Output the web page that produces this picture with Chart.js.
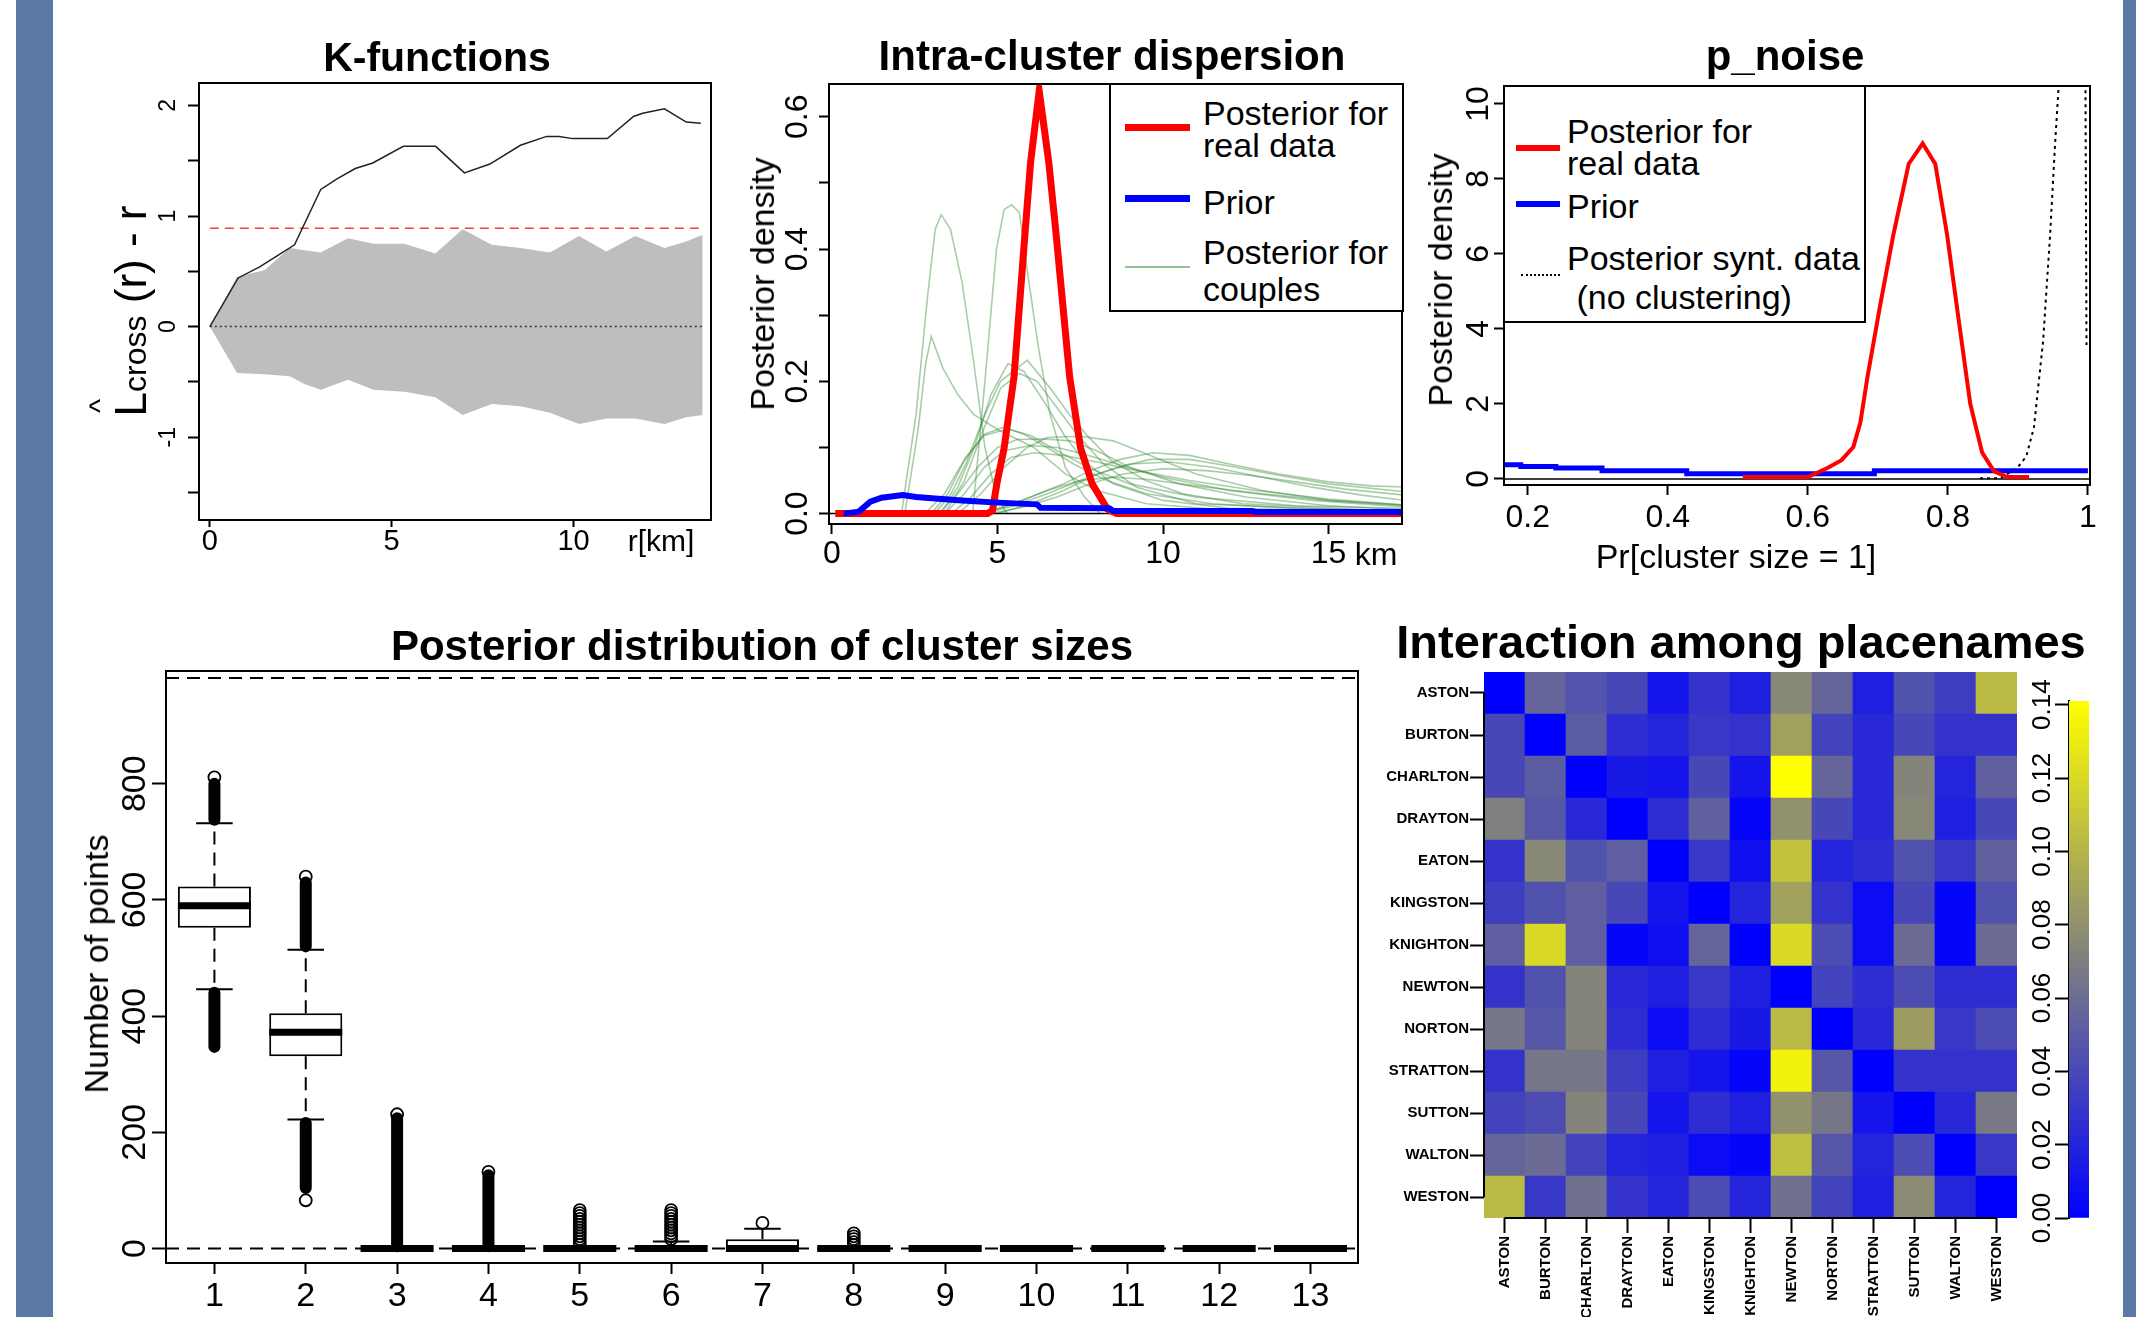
<!DOCTYPE html>
<html><head><meta charset="utf-8">
<script src="https://cdn.jsdelivr.net/npm/chart.js@4.4.1/dist/chart.umd.min.js"></script>
<style>
html,body{margin:0;padding:0;background:#fff;width:2136px;height:1317px;overflow:hidden;font-family:'Liberation Sans',Arial,sans-serif;}
.band{position:absolute;top:0;height:1317px;background:#5a79a5;}
.cv{position:absolute;}
.t{position:absolute;white-space:nowrap;line-height:1;color:#000;transform:translate(-50%,-50%);}
.r{transform:translate(-50%,-50%) rotate(-90deg);}
.b{font-weight:bold;}
.lg{position:absolute;border:2px solid #000;background:#fff;box-sizing:border-box;}
.lt{position:absolute;white-space:nowrap;line-height:1;font-size:34px;transform:translateY(-50%);color:#000;}
.ls{position:absolute;}
</style></head><body>
<div class="band" style="left:16px;width:37px"></div>
<div class="band" style="left:2123px;width:13px"></div>
<div class="cv" id="cK"></div><div class="cv" id="cD"></div><div class="cv" id="cP"></div>
<div class="cv" id="cB"></div><div class="cv" id="cH"></div><div class="cv" id="cC"></div>

<div class="t b" style="left:437px;top:57px;font-size:41px">K-functions</div>
<div class="t b" style="left:1112px;top:56px;font-size:42px">Intra-cluster dispersion</div>
<div class="t b" style="left:1785px;top:56px;font-size:42px">p_noise</div>
<div class="t b" style="left:762px;top:646px;font-size:42px">Posterior distribution of cluster sizes</div>
<div class="t b" style="left:1741px;top:641px;font-size:47px">Interaction among placenames</div>

<div class="t r" style="left:131px;top:311px;font-size:44px">L<span style="font-size:32px">cross</span> (r) - r</div>
<div class="t r" style="left:100px;top:406px;font-size:30px">^</div>
<div class="t" style="left:661px;top:541px;font-size:30px">r[km]</div>
<div class="t r" style="left:762px;top:284px;font-size:34px">Posterior density</div>
<div class="t" style="left:1376px;top:554px;font-size:32px">km</div>
<div class="t r" style="left:1440px;top:280px;font-size:34px">Posterior density</div>
<div class="t" style="left:1736px;top:556px;font-size:34px">Pr[cluster size = 1]</div>
<div class="t r" style="left:96px;top:964px;font-size:34px">Number of points</div>

<div class="lg" style="left:1109px;top:83px;width:295px;height:229px"></div>
<div class="ls" style="left:1125px;top:124px;width:65px;height:7px;background:#ff0000"></div>
<div class="ls" style="left:1125px;top:195px;width:65px;height:7px;background:#0000ff"></div>
<div class="ls" style="left:1125px;top:266px;width:65px;height:2px;background:rgba(60,140,60,0.55)"></div>
<div class="lt" style="left:1203px;top:113px">Posterior for</div>
<div class="lt" style="left:1203px;top:145px">real data</div>
<div class="lt" style="left:1203px;top:202px">Prior</div>
<div class="lt" style="left:1203px;top:252px">Posterior for</div>
<div class="lt" style="left:1203px;top:289px">couples</div>

<div class="lg" style="left:1503px;top:85px;width:363px;height:238px"></div>
<div class="ls" style="left:1516px;top:145px;width:44px;height:6px;background:#ff0000"></div>
<div class="ls" style="left:1516px;top:201px;width:44px;height:6px;background:#0000ff"></div>
<div class="ls" style="left:1521px;top:274px;width:39px;height:0;border-top:2px dotted #000"></div>
<div class="lt" style="left:1567px;top:131px">Posterior for</div>
<div class="lt" style="left:1567px;top:163px">real data</div>
<div class="lt" style="left:1567px;top:206px">Prior</div>
<div class="lt" style="left:1567px;top:258px">Posterior synt. data</div>
<div class="lt" style="left:1567px;top:297px">&nbsp;(no clustering)</div>

<script>
// ---------- K-functions ----------
const kObsX = [0,0.78,1.37,1.85,2.33,3.05,3.52,4.0,4.48,5.32,6.21,7.0,7.7,8.54,9.26,9.6,9.98,10.93,11.65,11.9,12.5,13.1,13.5];
const kObsY = [0,0.44,0.54,0.64,0.74,1.24,1.34,1.43,1.48,1.63,1.63,1.39,1.47,1.64,1.72,1.72,1.70,1.70,1.90,1.93,1.97,1.85,1.84];
const kEnvX = [0,0.75,1.5,2.2,2.6,3.05,3.8,4.5,5.35,6.2,6.95,7.75,8.55,9.35,10.15,10.9,11.7,12.5,13.1,13.55];
const kEnvHi = [0,0.45,0.51,0.71,0.69,0.67,0.80,0.75,0.75,0.66,0.88,0.74,0.71,0.67,0.82,0.68,0.82,0.71,0.77,0.83];
const kEnvLo = [0,-0.42,-0.43,-0.45,-0.52,-0.57,-0.48,-0.57,-0.59,-0.64,-0.80,-0.70,-0.72,-0.78,-0.88,-0.83,-0.83,-0.88,-0.82,-0.80];
const kRef = 0.89;
const kSpan = [0, 13.55];
const kYTicks = [-1.5,-1,-0.5,0,0.5,1,1.5,2];
const kYLabels = ['','-1','','0','','1','','2'];
const kXTicks = [0,5,10];
const kXLabels = ['0','5','10'];

// ---------- Intra-cluster dispersion ----------
const dRedX = [0.1,4.7,4.85,4.98,5.2,5.5,5.83,6.0,6.26,6.55,6.77,7.18,7.51,7.86,8.32,8.6,17.3];
const dRedY = [0,0,0.005,0.045,0.099,0.207,0.423,0.531,0.639,0.531,0.423,0.207,0.099,0.045,0.007,0,0];
const dBlueX = [0.35,0.81,1.16,1.5,2.14,2.54,3.12,3.93,4.86,6.19,6.3,8.38,8.5,12.7,12.8,17.3];
const dBlueY = [0,0.003,0.018,0.024,0.028,0.025,0.023,0.02,0.017,0.014,0.009,0.008,0.004,0.004,0.0025,0.0025];
const coupleCurves = [
 [[2.1,0],[2.54,0.15],[2.89,0.33],[3.12,0.43],[3.3,0.452],[3.58,0.43],[3.93,0.35],[4.28,0.23],[4.62,0.10],[4.97,0.025],[5.3,0]],
 [[2.2,0],[2.6,0.126],[2.83,0.227],[3.0,0.268],[3.35,0.22],[3.8,0.18],[4.28,0.15],[5.04,0.126],[6.1,0.1],[7.05,0.06],[8.0,0.035],[9.5,0.015],[12,0.005],[17.3,0.002]],
 [[4.25,0],[4.62,0.2],[4.97,0.40],[5.2,0.46],[5.43,0.467],[5.66,0.455],[5.95,0.35],[6.24,0.25],[6.59,0.15],[7.05,0.07],[7.63,0.025],[8.1,0]],
 [[3.1,0],[3.6,0.03],[4.05,0.076],[4.62,0.15],[5.09,0.2],[5.9,0.232],[6.59,0.19],[7.17,0.15],[7.75,0.116],[8.44,0.08],[9.48,0.05],[10.6,0.03],[12.4,0.015],[17.3,0.003]],
 [[3.3,0],[3.8,0.04],[4.3,0.1],[4.8,0.18],[5.32,0.227],[5.8,0.215],[6.4,0.17],[7.0,0.12],[7.6,0.08],[8.5,0.045],[10,0.02],[12,0.008],[17.3,0.002]],
 [[3.4,0],[4.0,0.05],[4.6,0.13],[5.1,0.19],[5.66,0.212],[6.2,0.2],[6.8,0.16],[7.4,0.12],[8.2,0.075],[9.2,0.04],[11,0.015],[17.3,0.002]],
 [[3.0,0],[3.5,0.03],[4.0,0.08],[4.6,0.12],[5.2,0.131],[5.8,0.12],[6.5,0.1],[7.3,0.075],[8.3,0.05],[9.5,0.03],[11.5,0.015],[14,0.008],[17.3,0.004]],
 [[3.2,0],[3.8,0.03],[4.4,0.07],[5.0,0.1],[5.6,0.112],[6.4,0.113],[7.2,0.11],[8.0,0.095],[9.0,0.07],[10.5,0.045],[12.5,0.025],[15,0.012],[17.3,0.006]],
 [[3.4,0],[4.0,0.03],[4.6,0.07],[5.2,0.095],[6.0,0.103],[6.8,0.1],[7.6,0.09],[8.6,0.075],[10,0.055],[12,0.035],[14.5,0.02],[17.3,0.01]],
 [[3.6,0],[4.2,0.025],[4.8,0.06],[5.4,0.085],[6.1,0.092],[7.0,0.088],[8.0,0.078],[9.2,0.065],[10.8,0.05],[12.8,0.035],[15,0.022],[17.3,0.013]],
 [[4.4,0],[5.2,0.01],[6.0,0.025],[7.0,0.045],[7.8,0.065],[8.7,0.082],[9.7,0.092],[10.8,0.088],[12.0,0.075],[13.5,0.06],[15.0,0.048],[16.3,0.042],[17.3,0.04]],
 [[4.6,0],[5.5,0.012],[6.5,0.03],[7.5,0.05],[8.5,0.068],[9.6,0.082],[10.8,0.082],[12.0,0.072],[13.5,0.058],[15.0,0.045],[17.3,0.033]],
 [[4.8,0],[5.8,0.01],[6.8,0.025],[7.8,0.045],[8.8,0.06],[10.0,0.068],[11.3,0.065],[12.6,0.058],[14,0.048],[15.5,0.037],[17.3,0.028]],
 [[5.0,0],[6.0,0.015],[7.0,0.035],[8.0,0.06],[9.0,0.075],[10.2,0.078],[11.5,0.07],[13,0.055],[14.5,0.04],[16,0.028],[17.3,0.02]],
 [[3.8,0],[4.5,0.03],[5.2,0.07],[5.9,0.1],[6.5,0.115],[7.5,0.117],[8.5,0.11],[9.5,0.09],[11,0.06],[13,0.035],[15,0.02],[17.3,0.012]],
 [[2.8,0],[3.4,0.03],[4.05,0.086],[4.6,0.118],[5.3,0.128],[6.0,0.118],[6.8,0.095],[7.8,0.068],[9,0.045],[11,0.025],[14,0.012],[17.3,0.008]],
 [[4.5,0],[5.5,0.015],[6.5,0.035],[7.5,0.05],[8.5,0.055],[9.5,0.052],[11,0.042],[13,0.03],[15,0.02],[17.3,0.013]]
];
const dXTicks = [0,5,10,15];
const dXLabels = ['0','5','10','15'];
const dYTicks = [0,0.1,0.2,0.3,0.4,0.5,0.6];
const dYLabels = ['0.0','','0.2','','0.4','','0.6'];

// ---------- p_noise ----------
const pnRedX = [0.507,0.6,0.628,0.648,0.665,0.675,0.685,0.703,0.722,0.744,0.764,0.782,0.799,0.815,0.832,0.849,0.866,0.885,0.916];
const pnRedY = [0.05,0.05,0.29,0.5,0.85,1.5,2.7,4.6,6.5,8.4,8.95,8.4,6.5,4.3,2.0,0.7,0.2,0.05,0.05];
const pnBlueX = [0.166,0.19,0.24,0.306,0.427,0.695,1.0];
const pnBlueY = [0.43,0.38,0.33,0.29,0.22,0.14,0.22];
const pnSynX = [0.846,0.875,0.899,0.912,0.923,0.936,0.946,0.953,0.958,0.962,0.996,0.998];
const pnSynY = [0.02,0.02,0.29,0.6,1.38,3.67,6.5,8.9,10.4,13,13,3.57];
const pXTicks = [0.2,0.4,0.6,0.8,1.0];
const pXLabels = ['0.2','0.4','0.6','0.8','1'];
const pYTicks = [0,2,4,6,8,10];
const pYLabels = ['0','2','4','6','8','10'];

// ---------- Cluster sizes boxplot ----------
const sizes = [1,2,3,4,5,6,7,8,9,10,11,12,13];
const q1  = [552,331,0,0,0,0,0,0,0,0,0,0,0];
const med = [590,372,0,0,0,0,0,0,0,0,0,0,0];
const q3  = [623,405,0,0,0,0,16,0,0,0,0,0,0];
const whLo = [446,222,0,0,0,0,0,0,0,0,0,0,0];
const whHi = [732,514,0,0,0,12,34,0,0,0,0,0,0];
const outBands = [[1,738,800],[1,440,347],[2,520,630],[2,216,104],[3,4,224],[4,4,126]];
const outPoints = [[1,811],[2,640],[2,83],[3,231],[4,132],
  [5,66],[5,61],[5,56],[5,51],[5,46],[5,41],[5,36],[5,31],[5,26],[5,21],[5,16],[5,11],[5,6],
  [6,66],[6,61],[6,56],[6,51],[6,46],[6,41],[6,36],[6,31],[6,26],[6,21],[6,16],
  [7,44],[8,26],[8,21],[8,16],[8,11],[8,6]];
const refLines = [0, 982];
const bYTicks = [0,200,400,600,800];
const bYLabels = ['0','200','400','600','800'];

// ---------- Interaction heatmap ----------
const places = ['ASTON','BURTON','CHARLTON','DRAYTON','EATON','KINGSTON','KNIGHTON','NEWTON','NORTON','STRATTON','SUTTON','WALTON','WESTON'];
const interaction = [
 [0,0.056,0.046,0.039,0.011,0.028,0.017,0.075,0.056,0.017,0.045,0.034,0.103],
 [0.039,0,0.051,0.025,0.020,0.031,0.028,0.089,0.037,0.022,0.039,0.028,0.028],
 [0.039,0.051,0,0.014,0.011,0.039,0.011,0.141,0.056,0.022,0.073,0.020,0.053],
 [0.070,0.048,0.022,0,0.025,0.053,0.003,0.080,0.039,0.022,0.075,0.017,0.039],
 [0.028,0.075,0.045,0.052,0,0.031,0.008,0.108,0.020,0.025,0.045,0.031,0.053],
 [0.034,0.045,0.052,0.039,0.011,0,0.020,0.089,0.028,0.006,0.039,0.003,0.045],
 [0.052,0.120,0.052,0.003,0.008,0.056,0,0.120,0.042,0.006,0.059,0.003,0.059],
 [0.028,0.045,0.073,0.022,0.017,0.031,0.017,0,0.037,0.025,0.042,0.025,0.025],
 [0.065,0.048,0.073,0.025,0.006,0.025,0.014,0.103,0,0.022,0.086,0.031,0.042],
 [0.028,0.065,0.065,0.034,0.017,0.011,0.003,0.134,0.048,0,0.028,0.028,0.028],
 [0.037,0.042,0.073,0.039,0.011,0.025,0.017,0.080,0.065,0.011,0,0.022,0.067],
 [0.056,0.059,0.037,0.020,0.017,0.006,0.003,0.105,0.048,0.020,0.042,0,0.031],
 [0.103,0.031,0.062,0.028,0.020,0.042,0.020,0.062,0.037,0.017,0.077,0.020,0]
];
const cbTicks = [0,0.02,0.04,0.06,0.08,0.10,0.12,0.14];
const cbLabels = ['0.00','0.02','0.04','0.06','0.08','0.10','0.12','0.14'];

// ================= helpers =================
Chart.defaults.font.family = "'Liberation Sans', Arial, sans-serif";
Chart.defaults.color = '#000';

const rbox = { id:'rbox', afterDatasetsDraw(chart, args, o){ if(!o || !o.on) return; const c=chart.ctx, a=chart.chartArea; c.save(); c.strokeStyle='#000'; c.lineWidth=2; c.strokeRect(a.left, a.top, a.right-a.left, a.bottom-a.top); c.restore(); } };
const rAxisLines = { id:'rAxisLines', afterDatasetsDraw(chart, args, o){ if(!o || !o.on) return; const c=chart.ctx, a=chart.chartArea, x=chart.scales.x, y=chart.scales.y; c.save(); c.strokeStyle='#000'; c.lineWidth=2; c.beginPath(); c.moveTo(x.getPixelForTick(0), a.bottom); c.lineTo(x.getPixelForTick(x.ticks.length-1), a.bottom); c.moveTo(a.left, y.getPixelForValue(y.ticks[0].value)); c.lineTo(a.left, y.getPixelForValue(y.ticks[y.ticks.length-1].value)); c.stroke(); c.restore(); } };
Chart.register(rbox, rAxisLines);

function mk(id, area, m, cfg, flags){
  flags = flags || {};
  const el = document.getElementById(id);
  el.style.left = (area[0]-m[0])+'px'; el.style.top = (area[1]-m[1])+'px';
  el.style.width = (area[2]-area[0]+m[0]+m[2])+'px'; el.style.height = (area[3]-area[1]+m[1]+m[3])+'px';
  const cv = document.createElement('canvas'); el.appendChild(cv);
  const o = cfg.options;
  o.responsive = true; o.maintainAspectRatio = false; o.animation = false; o.devicePixelRatio = 1; o.events = [];
  o.layout = {padding:{left: flags.noY ? m[0] : 0, top:m[1], right:m[2], bottom: flags.noX ? m[3] : 0}};
  o.plugins = Object.assign({legend:{display:false}, tooltip:{enabled:false}}, o.plugins||{});
  return new Chart(cv, cfg);
}
function axis(pos, o, size){
  const vert = pos==='left';
  return {
    type:o.type||'linear', position:pos, min:o.min, max:o.max, offset:false, stacked:o.stacked||false,
    afterBuildTicks: s => { s.ticks = o.ticks.map(v => ({value:v})); },
    afterFit: s => { if (vert) s.width = size; else s.height = size; },
    ticks: Object.assign({autoSkip:false, padding:o.pad, color:'#000', font:{size:o.fs, lineHeight:1, weight:o.fw||'normal'},
      callback:(v,i)=>o.labels[i]}, vert ? {minRotation:90, maxRotation:90, crossAlign:'center'} : {minRotation:0, maxRotation:0}),
    grid: {display:true, drawOnChartArea:false, drawTicks:true, tickLength:o.tl, tickWidth:2, tickColor:'#000', offset:false},
    border: {display:false}
  };
}
const pts = (xs, ys) => xs.map((x,i) => ({x, y:ys[i]}));
const line = (data, color, w, extra) => Object.assign({type:'line', data, borderColor:color, borderWidth:w, pointRadius:0, fill:false, tension:0}, extra||{});

// ================= K-functions =================
mk('cK', [199,83,711,520], [120,40,30,70], {
  type:'line',
  data:{datasets:[
    line(pts(kObsX,kObsY), '#222', 1.5, {order:0}),
    line(pts(kSpan,[kRef,kRef]), '#ff3b3b', 1.5, {borderDash:[9,6], order:1}),
    line(pts(kSpan,[0,0]), '#333', 1.5, {borderDash:[2,3], order:2}),
    line(pts(kEnvX,kEnvHi), 'rgba(0,0,0,0)', 1, {fill:'+1', backgroundColor:'#bebebe', order:3}),
    line(pts(kEnvX,kEnvLo), 'rgba(0,0,0,0)', 1, {order:4})
  ]},
  options:{ plugins:{rbox:{on:true}}, scales:{
    x: axis('bottom', {min:-0.297, max:13.78, ticks:kXTicks, labels:kXLabels, fs:29, tl:7, pad:0}, 70),
    y: axis('left', {min:-1.749, max:2.203, ticks:kYTicks, labels:kYLabels, fs:23, tl:11, pad:9}, 120)
  }}
});

// ================= Intra-cluster dispersion =================
const dSets = [
  line(pts(dBlueX,dBlueY), '#0000ff', 6, {order:0}),
  line(pts(dRedX,dRedY), '#ff0000', 7, {order:1}),
  line(pts([-0.09,17.22],[0,0]), '#000', 1.5, {order:2})
];
coupleCurves.forEach((c,i) => dSets.push(line(c.map(p => ({x:p[0], y:p[1]})), 'rgba(50,135,50,0.42)', 1.6, {order:3+i})));
mk('cD', [829,84,1402,524], [80,40,30,70], {
  type:'line', data:{datasets:dSets},
  options:{ plugins:{rbox:{on:true}}, scales:{
    x: axis('bottom', {min:-0.09, max:17.22, ticks:dXTicks, labels:dXLabels, fs:32, tl:10, pad:4}, 70),
    y: axis('left', {min:-0.0157, max:0.6496, ticks:dYTicks, labels:dYLabels, fs:32, tl:10, pad:-1}, 80)
  }}
});

// ================= p_noise =================
mk('cP', [1504,86,2090,485], [80,40,25,70], {
  type:'line',
  data:{datasets:[
    line(pts(pnRedX,pnRedY), '#ff0000', 4, {order:0}),
    line(pts(pnBlueX,pnBlueY), '#0000ff', 5, {order:1, stepped:'after'}),
    line(pts(pnSynX,pnSynY), '#000', 2, {order:2, borderDash:[3,4]}),
    line(pts([0.166,1.003],[0,0]), '#000', 1.5, {order:3})
  ]},
  options:{ plugins:{rbox:{on:true}}, scales:{
    x: axis('bottom', {min:0.166, max:1.003, ticks:pXTicks, labels:pXLabels, fs:32, tl:10, pad:7}, 70),
    y: axis('left', {min:-0.163, max:10.48, ticks:pYTicks, labels:pYLabels, fs:32, tl:10, pad:-3}, 80)
  }}
});

// ================= Boxplot =================
const whisk = [], caps = [], meds = [], bands = [];
sizes.forEach((c,i) => {
  if (whHi[i] > q3[i]) whisk.push({x:c,y:q3[i]},{x:c,y:whHi[i]},{x:c,y:null});
  if (whLo[i] < q1[i]) whisk.push({x:c,y:q1[i]},{x:c,y:whLo[i]},{x:c,y:null});
  caps.push({x:c-0.2,y:whHi[i]},{x:c+0.2,y:whHi[i]},{x:c,y:null},{x:c-0.2,y:whLo[i]},{x:c+0.2,y:whLo[i]},{x:c,y:null});
  meds.push({x:c-0.4,y:med[i]},{x:c+0.4,y:med[i]},{x:c,y:null});
});
outBands.forEach(b => bands.push({x:b[0],y:b[1]},{x:b[0],y:b[2]},{x:b[0],y:null}));
const refData = [];
refLines.forEach(v => refData.push({x:0.47,y:v},{x:13.52,y:v},{x:0.47,y:null}));
mk('cB', [166,671,1358,1263], [80,30,30,54], {
  type:'bar',
  data:{datasets:[
    line(meds, '#000', 7, {order:0, borderCapStyle:'butt'}),
    {type:'line', data:outPoints.map(p=>({x:p[0],y:p[1]})), showLine:false, pointRadius:6, pointBorderWidth:1.8, pointBorderColor:'#000', pointBackgroundColor:'rgba(0,0,0,0)', order:1},
    line(bands, '#000', 12, {order:2, borderCapStyle:'round'}),
    line(caps, '#000', 2, {order:3}),
    line(whisk, '#000', 2, {order:4, borderDash:[13,8]}),
    {type:'bar', data:sizes.map((c,i)=>({x:c, y:[q1[i], q3[i]]})), backgroundColor:'#fff', borderColor:'#000', borderWidth:2, borderSkipped:false, barPercentage:0.8, categoryPercentage:1, order:5},
    line(refData, '#000', 2, {order:6, borderDash:[13,8]})
  ]},
  options:{ plugins:{rbox:{on:true}}, scales:{
    x: axis('bottom', {min:0.47, max:13.52, ticks:sizes, labels:sizes.map(String), fs:34, tl:11, pad:6}, 54),
    y: axis('left', {min:-25, max:994, ticks:bYTicks, labels:bYLabels, fs:34, tl:14, pad:-12}, 80)
  }}
});

// ================= Heatmap =================
let cbMax = 0; interaction.forEach(r => r.forEach(v => { if (v > cbMax) cbMax = v; }));
const cbMin = 0;
const rampColor = v => { const t = Math.max(0, Math.min(1, (v-cbMin)/(cbMax-cbMin))); return 'rgb('+Math.round(255*t)+','+Math.round(255*t)+','+Math.round(255*(1-t))+')'; };
const hSets = places.map((_, k) => {
  const row = places.length - 1 - k;
  return {data: places.map(() => 1), backgroundColor: interaction[row].map(rampColor), borderWidth:0, barPercentage:1, categoryPercentage:1};
});
const yHeatTicks = places.map((_, k) => k + 0.5);
const yHeatLabels = places.slice().reverse();
mk('cH', [1484,672,2017,1218], [110,30,8,99], {
  type:'bar', data:{labels:places, datasets:hSets},
  options:{ plugins:{rAxisLines:{on:true}}, scales:{
    x: {type:'category', stacked:true, offset:true, position:'bottom',
        afterFit: s => { s.height = 99; },
        ticks:{autoSkip:false, minRotation:90, maxRotation:90, padding:3, color:'#000', font:{size:15, weight:'bold'}},
        grid:{display:true, drawOnChartArea:false, drawTicks:true, tickLength:15, tickWidth:2, tickColor:'#000', offset:false},
        border:{display:false}},
    y: Object.assign(axis('left', {min:0, max:13, ticks:yHeatTicks, labels:yHeatLabels, fs:15, fw:'bold', tl:14, pad:1, stacked:true}, 110),
        {ticks:{autoSkip:false, padding:1, color:'#000', font:{size:15, weight:'bold', lineHeight:1}, callback:(v,i)=>yHeatLabels[i]}})
  }}
});

// ================= Colour bar =================
mk('cC', [2069,701,2089,1218], [70,40,10,70], {
  type:'bar', data:{labels:['scale'], datasets:[{
    data:[[cbMin, cbMax]], borderWidth:0, barPercentage:1, categoryPercentage:1,
    backgroundColor: (c) => { const ch = c.chart; if (!ch.chartArea) return 'blue'; const y = ch.scales.y;
      const g = ch.ctx.createLinearGradient(0, y.getPixelForValue(cbMin), 0, y.getPixelForValue(cbMax));
      g.addColorStop(0, 'rgb(0,0,255)'); g.addColorStop(1, 'rgb(255,255,0)'); return g; }
  }]},
  options:{ scales:{
    x: {display:false, offset:true},
    y: Object.assign(axis('left', {min:cbMin, max:cbMax, ticks:cbTicks, labels:cbLabels, fs:26, tl:14, pad:-13}, 70), {border:{display:true, color:'#000', width:2}})
  }}
}, {noX:true});
</script>
</body></html>
